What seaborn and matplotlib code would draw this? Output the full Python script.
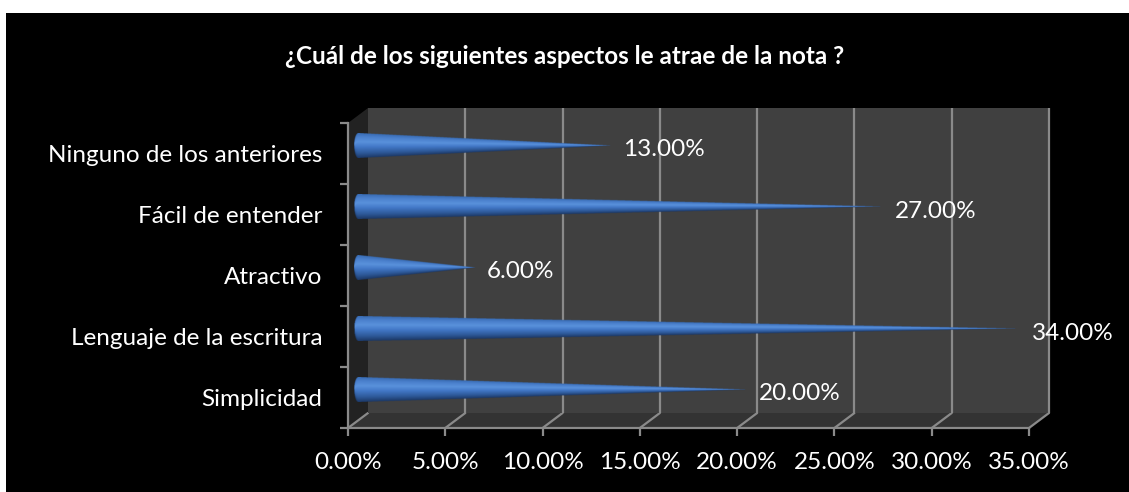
import numpy as np
import pandas as pd
import matplotlib
matplotlib.use("Agg")
import matplotlib.pyplot as plt
import matplotlib.transforms as mtransforms
from matplotlib.patches import Polygon, Rectangle
from matplotlib.ticker import FixedLocator, FuncFormatter
import seaborn as sns

# ---- data -------------------------------------------------------------
categories = [
    "Ninguno de los anteriores",
    "Fácil de entender",
    "Atractivo",
    "Lenguaje de la escritura",
    "Simplicidad",
]
values = [0.13, 0.27, 0.06, 0.34, 0.20]
x_ticks = [0.00, 0.05, 0.10, 0.15, 0.20, 0.25, 0.30, 0.35]
title = "¿Cuál de los siguientes aspectos le atrae de la nota ?"

# ---- style ------------------------------------------------------------
sns.set_theme(style="ticks")
plt.rcParams["font.family"] = ["Lato", "DejaVu Sans"]

W, H = 1129, 492
DPI = 100
LABEL_SIZE = 17.5
fig = plt.figure(figsize=(W / DPI, H / DPI), dpi=DPI, facecolor="white")

# black chart panel
fig.patches.append(Rectangle((6 / W, 0), 1 - 6 / W, 1 - 13 / H,
                             transform=fig.transFigure, facecolor="black",
                             edgecolor="none", zorder=-2))

ax = fig.add_axes([348 / W, 64 / H, 681 / W, 305 / H])
ax.set_zorder(2)
ax.set_facecolor("none")

df = pd.DataFrame({"aspecto": categories, "porcentaje": values})
sns.barplot(data=df, y="aspecto", x="porcentaje", orient="h", width=0.4,
            color="#4472C4", ax=ax)

n = len(categories)
ax.set_xlim(x_ticks[0], x_ticks[-1])
ax.set_ylim(n - 0.5, -0.5)

# depth offsets of the 3-D box (back wall and bar mid-plane)
depth_dx, depth_dy = 0.20, 0.15  # inches
back = ax.transData + mtransforms.ScaledTranslation(depth_dx, depth_dy, fig.dpi_scale_trans)
mid = ax.transData + mtransforms.ScaledTranslation(depth_dx / 2, depth_dy / 2, fig.dpi_scale_trans)

x0, x1 = x_ticks[0], x_ticks[-1]
y_top, y_bot = -0.5, n - 0.5

# back wall
ax.add_patch(Rectangle((x0, y_top), x1 - x0, y_bot - y_top, transform=back,
                       facecolor="#404040", edgecolor="none", zorder=0.5, clip_on=False))

def disp(trans, pts):
    return trans.transform(np.asarray(pts))

ident = mtransforms.IdentityTransform()
# floor
floor = np.vstack([disp(ax.transData, [(x0, y_bot), (x1, y_bot)]),
                   disp(back, [(x1, y_bot), (x0, y_bot)])])
fig.patches.append(Polygon(floor, closed=True, transform=ident,
                           facecolor="#333333", edgecolor="none", zorder=0.6))
# side wall
side = np.vstack([disp(ax.transData, [(x0, y_top), (x0, y_bot)]),
                  disp(back, [(x0, y_bot), (x0, y_top)])])
fig.patches.append(Polygon(side, closed=True, transform=ident,
                           facecolor="#222222", edgecolor="none", zorder=0.6))

grid_c = "#8a8a8a"
for t in x_ticks:
    if t > x0:
        ax.plot([t, t], [y_top, y_bot], transform=back, color=grid_c, lw=1.6,
                zorder=1, clip_on=False, solid_capstyle="butt")
    fb = disp(ax.transData, [(t, y_bot)])[0]
    bb = disp(back, [(t, y_bot)])[0]
    fig.lines.append(plt.Line2D([fb[0], bb[0]], [fb[1], bb[1]], transform=ident,
                                color=grid_c, lw=1.6, zorder=1))

# ---- cones built from the bar geometry --------------------------------
stops_t = np.array([-1.0, -0.6, -0.1, 0.3, 0.7, 1.0])
stops_c = np.array([
    (0.11, 0.22, 0.40),
    (0.18, 0.35, 0.60),
    (0.26, 0.47, 0.78),
    (0.35, 0.57, 0.86),
    (0.29, 0.50, 0.80),
    (0.22, 0.42, 0.70),
])
rx = 0.0022  # half-width of the cone's elliptical base (data units)

bars = [p for p in ax.patches if isinstance(p, Rectangle)][:n]
for p, v in zip(bars, values):
    p.set_visible(False)
    h = p.get_height()
    yc = p.get_y() + h / 2
    w = p.get_width()
    nx, ny = 1400, 140
    xs = np.linspace(-rx, w, nx)
    ys = yc - h / 2 + (np.arange(ny) + 0.5) / ny * h
    X, Y = np.meshgrid(xs, ys)
    hh = np.where(X >= 0, (h / 2) * (1 - X / w),
                  (h / 2) * np.sqrt(np.clip(1 - (X / rx) ** 2, 0, 1)))
    hh = np.maximum(hh, 1e-9)
    T = (yc - Y) / hh
    inside = (np.abs(T) <= 1) & (X <= w)
    Tc = np.clip(T, -1, 1)
    img = np.zeros((ny, nx, 4))
    for k in range(3):
        img[..., k] = np.interp(Tc, stops_t, stops_c[:, k])
    img[..., 3] = inside.astype(float)
    im = ax.imshow(img, extent=(-rx, w, yc + h / 2, yc - h / 2), origin="upper",
                   aspect="auto", interpolation="bilinear", zorder=3)
    im.set_transform(mid)
    im.set_clip_on(False)
    ax.annotate(f"{v * 100:.2f}%", xy=(v, yc), xycoords=mid,
                xytext=(12, -4), textcoords="offset pixels",
                ha="left", va="center", color="white", fontsize=LABEL_SIZE, zorder=5)

ax.set_xlim(x0, x1)
ax.set_ylim(y_bot, y_top)

# ---- axes -------------------------------------------------------------
for s in ("top", "right"):
    ax.spines[s].set_visible(False)
for s in ("left", "bottom"):
    ax.spines[s].set_color(grid_c)
    ax.spines[s].set_linewidth(1.6)
    ax.spines[s].set_zorder(4)

ax.xaxis.set_major_locator(FixedLocator(x_ticks))
ax.xaxis.set_major_formatter(FuncFormatter(lambda x, _: f"{x * 100:.2f}%"))
ax.tick_params(axis="x", which="major", length=6, width=1.6, color=grid_c,
               labelcolor="white", labelsize=LABEL_SIZE, pad=11)
ax.yaxis.set_minor_locator(FixedLocator(np.arange(n + 1) - 0.5))
ax.tick_params(axis="y", which="minor", length=6, width=1.6, color=grid_c, left=True)
ax.tick_params(axis="y", which="major", length=0, labelcolor="white",
               labelsize=LABEL_SIZE, pad=18.5)
ax.set_xlabel("")
ax.set_ylabel("")

fig.text(565 / W, 1 - 57 / H, title, ha="center", va="center",
         color="white", fontsize=17.5, fontweight="bold")

fig.savefig("out.png", dpi=DPI, facecolor="white")
